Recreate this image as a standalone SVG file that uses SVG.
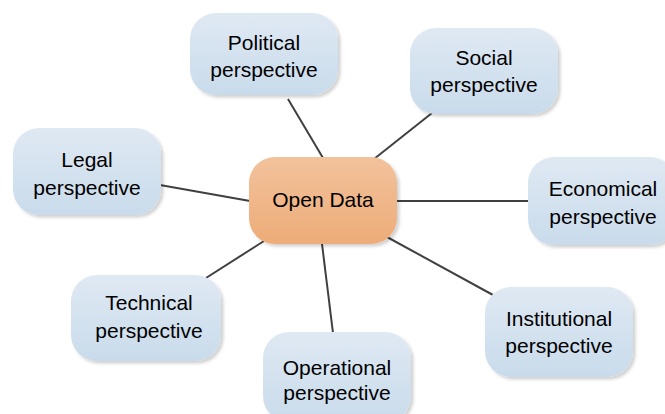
<svg xmlns="http://www.w3.org/2000/svg" width="665" height="414" viewBox="0 0 665 414">
<defs>
<linearGradient id="gBlue" x1="0" y1="0" x2="0" y2="1">
<stop offset="0" stop-color="#dfe9f3"/>
<stop offset="1" stop-color="#c9dbeb"/>
</linearGradient>
<linearGradient id="gOrange" x1="0" y1="0" x2="0" y2="1">
<stop offset="0" stop-color="#f2c29c"/>
<stop offset="1" stop-color="#edac78"/>
</linearGradient>
<filter id="sh" x="-10%" y="-10%" width="125%" height="130%">
<feDropShadow dx="2.5" dy="2.5" stdDeviation="1.5" flood-color="#000" flood-opacity="0.18"/>
</filter>
</defs>
<style>
.b{fill:url(#gBlue);filter:url(#sh)}
.o{fill:url(#gOrange);filter:url(#sh)}
text{font-family:"Liberation Sans",Arial,sans-serif;font-size:21px;fill:#000;text-anchor:middle}
.c line{stroke:#404040;stroke-width:2}
</style>
<rect width="665" height="414" fill="#fff"/>
<g class="c" id="connectors">
<line x1="288" y1="99" x2="323" y2="158"/>
<line x1="432" y1="113" x2="374" y2="159"/>
<line x1="160" y1="185" x2="250" y2="201"/>
<line x1="396" y1="201" x2="528" y2="201"/>
<line x1="264" y1="241" x2="206" y2="278"/>
<line x1="322" y1="244" x2="333" y2="333"/>
<line x1="387" y1="237" x2="493" y2="295"/>
</g>
<g id="political"><rect class="b" x="190" y="13" width="148" height="82" rx="26"/><text x="264" y="50">Political</text><text x="264" y="77">perspective</text></g>
<g id="social"><rect class="b" x="410" y="28" width="148" height="86" rx="26"/><text x="484" y="65">Social</text><text x="484" y="92">perspective</text></g>
<g id="legal"><rect class="b" x="13" y="128" width="148" height="87" rx="26"/><text x="87" y="167">Legal</text><text x="87" y="195">perspective</text></g>
<g id="economical"><rect class="b" x="528" y="157" width="148" height="88" rx="26"/><text x="603" y="196">Economical</text><text x="603" y="224">perspective</text></g>
<g id="technical"><rect class="b" x="71" y="275" width="150" height="86" rx="26"/><text x="149" y="310">Technical</text><text x="149" y="338">perspective</text></g>
<g id="operational"><rect class="b" x="263" y="332" width="148" height="90" rx="26"/><text x="337" y="375">Operational</text><text x="337" y="400">perspective</text></g>
<g id="institutional"><rect class="b" x="485" y="287" width="148" height="90" rx="26"/><text x="559" y="326">Institutional</text><text x="559" y="353">perspective</text></g>
<g id="opendata"><rect class="o" x="249" y="157" width="148" height="87" rx="26"/><text x="323" y="207">Open Data</text></g>
</svg>
